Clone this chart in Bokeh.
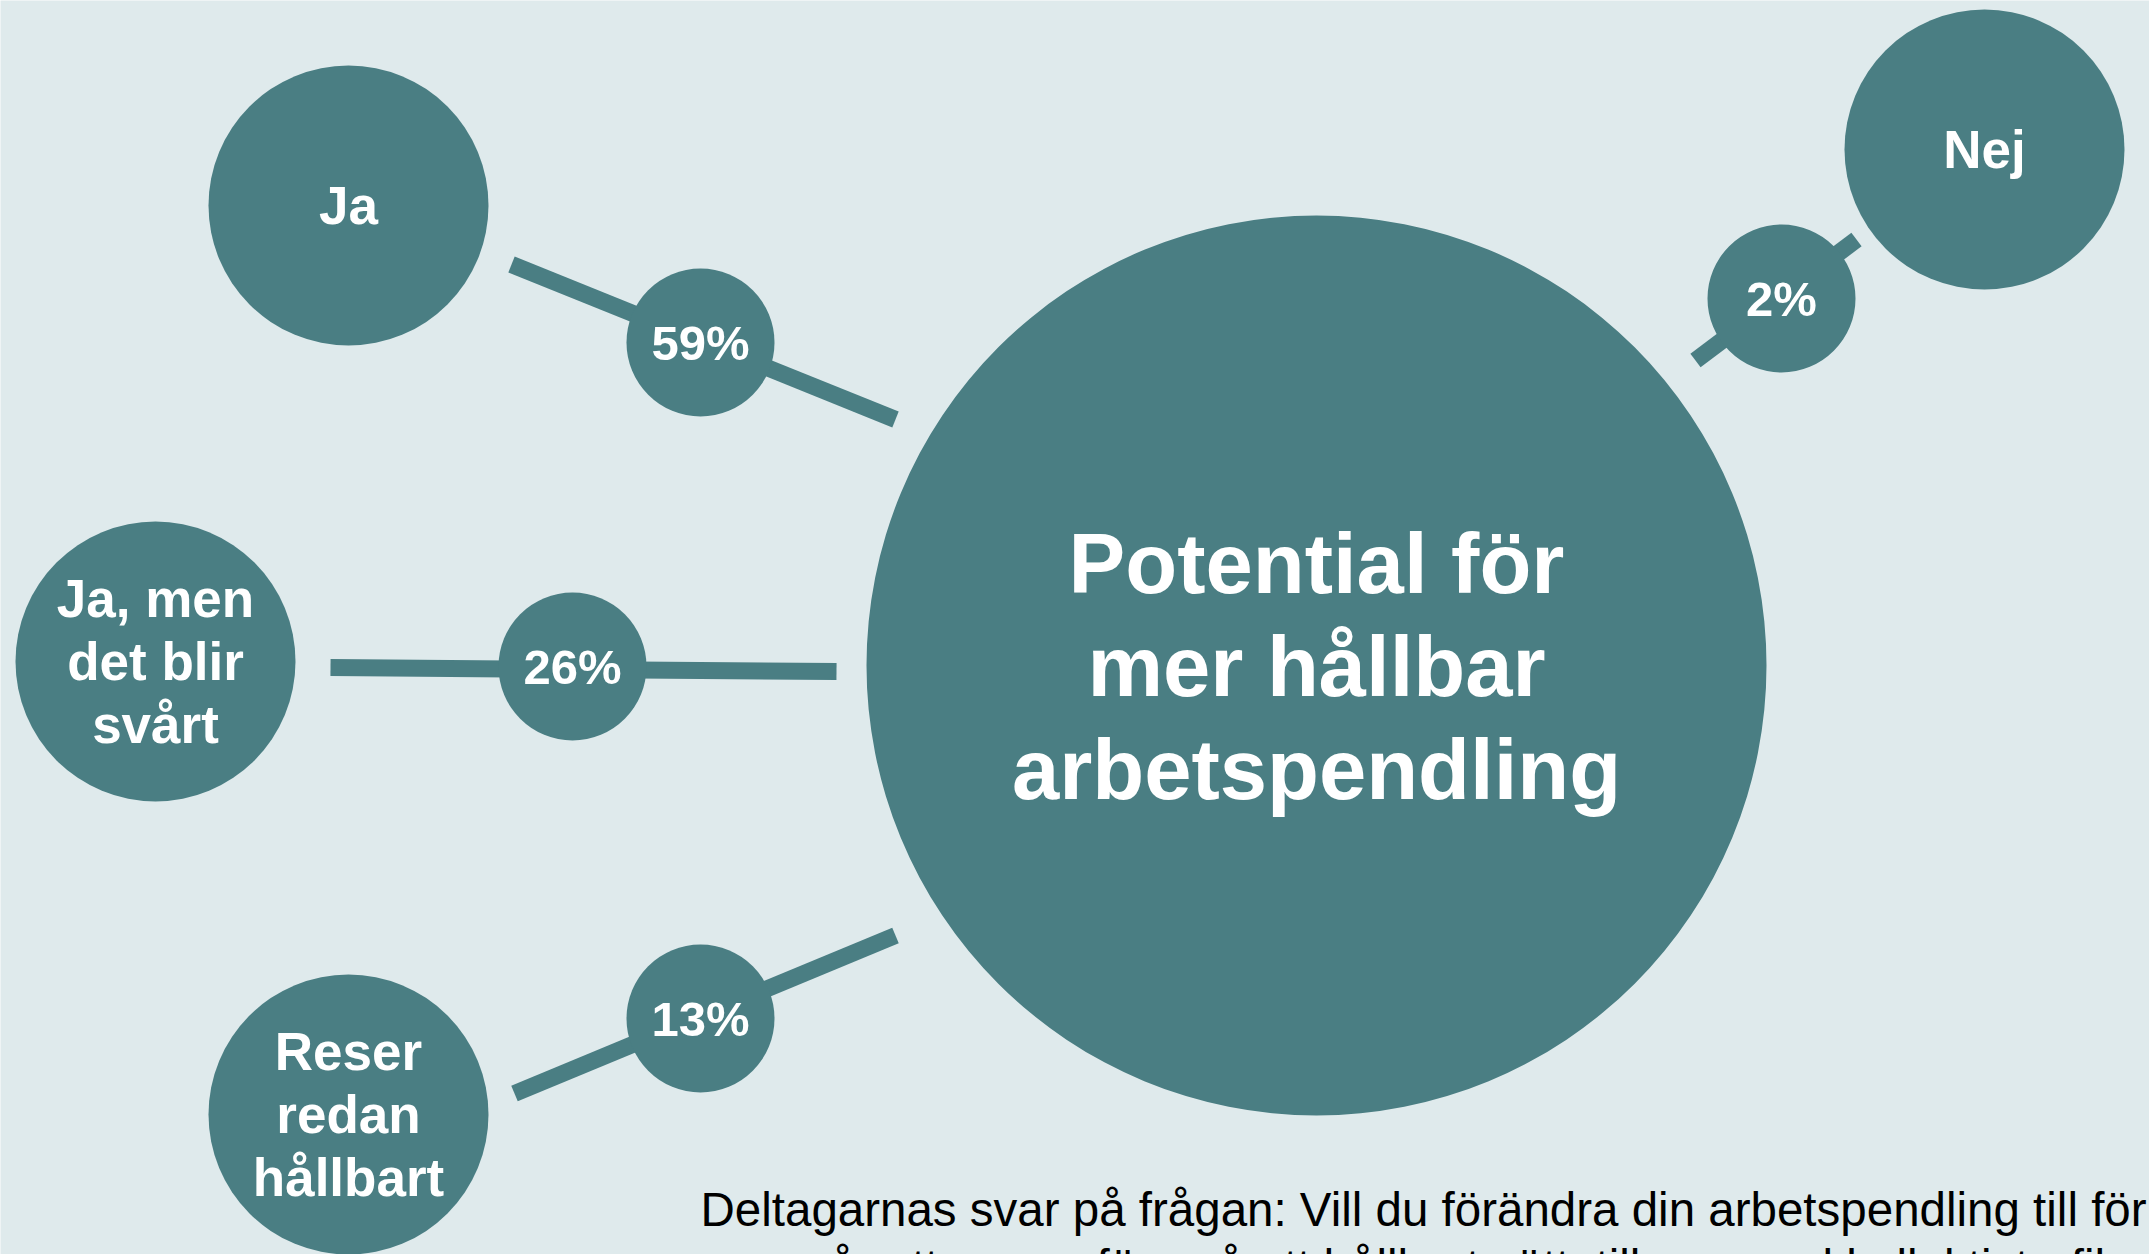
from bokeh.plotting import figure
from bokeh.models import Range1d
from bokeh.embed import file_html
from bokeh.resources import INLINE
from bokeh.core.properties import value

# ---------------- data ----------------
answers = ["Ja", "Ja, men det blir svårt", "Reser redan hållbart", "Nej"]
answer_lines = [["Ja"], ["Ja, men", "det blir", "svårt"], ["Reser", "redan", "hållbart"], ["Nej"]]
shares = [59, 26, 13, 2]
pct_labels = [f"{v}%" for v in shares]
hub_title = ["Potential för", "mer hållbar", "arbetspendling"]
caption_lines = [
    "Deltagarnas svar på frågan: Vill du förändra din arbetspendling till för",
    "som går att genomföra på ett hållbart sätt, till exempel kollektivtrafik, cykel eller gång?",
]

# ---------------- layout (page pixels, y downward) ----------------
W, H = 2149, 1254
BG = "#DFEAEC"
TEAL = "#4A7E83"
FONT = value("Liberation Sans")
BASE_FIX = 0.35  # em shift of the rendered alphabetic baseline

hub_x, hub_y, hub_r = 1316, 665, 450
answer_x = [348, 155, 348, 1984]
answer_y = [205, 661, 1114, 149]
answer_r = 140
pct_x = [700, 572, 700, 1781]
pct_y = [342, 666, 1018, 298]
pct_r = 74
line_x0 = [511, 330, 514, 1695]
line_y0 = [264, 667, 1093, 360]
line_x1 = [895, 836, 895, 1856]
line_y1 = [419, 671, 935, 239]

p = figure(width=W, height=H, output_backend="svg", toolbar_location=None,
           x_range=Range1d(0, W), y_range=Range1d(H, 0),
           x_axis_type=None, y_axis_type=None, min_border=0,
           background_fill_color=BG, border_fill_color=BG, outline_line_color=None)
p.grid.visible = False

# connectors
p.segment(x0=line_x0, y0=line_y0, x1=line_x1, y1=line_y1,
          line_color=TEAL, line_width=17, line_cap="butt")

# circles
p.circle(x=[hub_x], y=[hub_y], radius=hub_r, fill_color=TEAL, line_color=None)
p.circle(x=answer_x, y=answer_y, radius=answer_r, fill_color=TEAL, line_color=None)
p.circle(x=pct_x, y=pct_y, radius=pct_r, fill_color=TEAL, line_color=None)


def baseline(center, size, n, lh, i):
    cap = size * 0.716
    return center + cap / 2 - (n - 1) * lh / 2 + i * lh - BASE_FIX * size


# hub title
hub_size, hub_lh = 85, 103
tx, ty, tt = [], [], []
for i, s in enumerate(hub_title):
    tx.append(hub_x)
    ty.append(baseline(hub_y, hub_size, len(hub_title), hub_lh, i))
    tt.append(s)
p.text(x=tx, y=ty, text=tt, text_align="center", text_baseline="alphabetic",
       text_font=FONT, text_font_style="bold", text_font_size=f"{hub_size}px", text_color="white")

# answer labels
lab_size, lab_lh = 53, 63
ax, ay, at = [], [], []
for cx, cy, lines in zip(answer_x, answer_y, answer_lines):
    for i, s in enumerate(lines):
        ax.append(cx)
        ay.append(baseline(cy, lab_size, len(lines), lab_lh, i))
        at.append(s)
p.text(x=ax, y=ay, text=at, text_align="center", text_baseline="alphabetic",
       text_font=FONT, text_font_style="bold", text_font_size=f"{lab_size}px", text_color="white")

# percentages
pct_size = 49
p.text(x=pct_x, y=[baseline(y, pct_size, 1, 0, 0) for y in pct_y], text=pct_labels,
       text_align="center", text_baseline="alphabetic",
       text_font=FONT, text_font_style="bold", text_font_size=f"{pct_size}px", text_color="white")

# caption (second line runs off the bottom like the original)
cap_size = 47.5
cap_x = 700
cap_y0, cap_lh = 1226, 57
p.text(x=[cap_x] * len(caption_lines),
       y=[cap_y0 + i * cap_lh - BASE_FIX * cap_size for i in range(len(caption_lines))],
       text=caption_lines, text_align="left", text_baseline="alphabetic",
       text_font=FONT, text_font_size=f"{cap_size}px", text_color="black")

open("out.html", "w").write(file_html(p, INLINE))
